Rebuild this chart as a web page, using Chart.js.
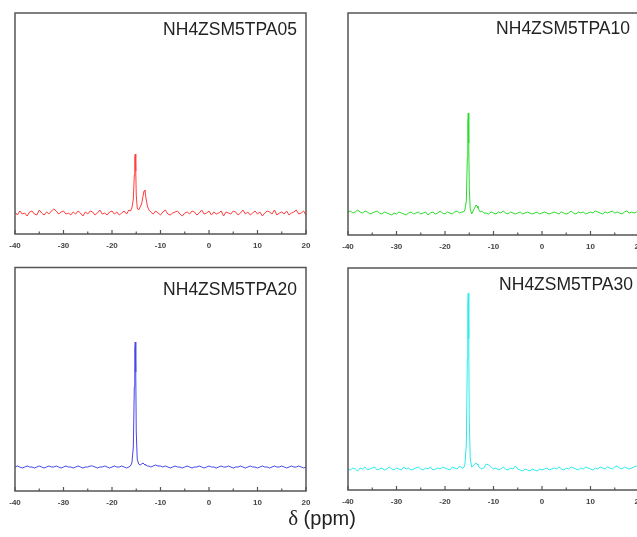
<!DOCTYPE html>
<html>
<head>
<meta charset="utf-8">
<script src="https://cdn.jsdelivr.net/npm/chart.js@4.4.1/dist/chart.umd.min.js"></script>
<style>
    html, body { margin: 0; padding: 0; background: #fff; }
    body { width: 637px; height: 537px; position: relative; overflow: hidden; font-family: "Liberation Sans", Arial, sans-serif; }
    canvas { position: absolute; }
    .label { position: absolute; width: 200px; text-align: right; font-size: 17.5px; line-height: 17.5px; color: #222; white-space: nowrap; }
    #axis_title { position: absolute; left: 222px; top: 508px; width: 200px; text-align: center; font-size: 20px; line-height: 20px; color: #222; }
    #axis_title .delta { font-family: "Liberation Serif", "DejaVu Serif", serif; font-size: 21px; }
</style>
</head>
<body>
<canvas id="chart_tpa05" width="320" height="260" style="left:0;top:0"></canvas>
<canvas id="chart_tpa10" width="320" height="260" style="left:333px;top:0"></canvas>
<canvas id="chart_tpa20" width="320" height="260" style="left:0;top:254px"></canvas>
<canvas id="chart_tpa30" width="320" height="260" style="left:333px;top:254px"></canvas>

<div class="label" style="left:97px;top:21px">NH4ZSM5TPA05</div>
<div class="label" style="left:430px;top:20px">NH4ZSM5TPA10</div>
<div class="label" style="left:97px;top:280.5px">NH4ZSM5TPA20</div>
<div class="label" style="left:433px;top:275.5px">NH4ZSM5TPA30</div>
<div id="axis_title"><span class="delta">δ</span> (ppm)</div>

<script>
const shift_ticks = [-40, -30, -20, -10, 0, 10, 20];
const shift_minor_ticks = [-35, -25, -15, -5, 5, 15];

const shift = [
    -40, -39.5, -39, -38.5, -38, -37.5, -37, -36.5, -36, -35.5,
    -35, -34.5, -34, -33.5, -33, -32.5, -32, -31.5, -31, -30.5,
    -30, -29.5, -29, -28.5, -28, -27.5, -27, -26.5, -26, -25.5,
    -25, -24.5, -24, -23.5, -23, -22.5, -22, -21.5, -21, -20.5,
    -20, -19.5, -19, -18.5, -18, -17.5, -17, -16.5,
    -16.2, -15.9, -15.6, -15.4, -15.3, -15.2, -15.1, -15.0, -14.8, -14.5,
    -14.2, -13.9, -13.6, -13.4, -13.2, -13.0, -12.7, -12.4, -12.0,
    -11.5, -11, -10.5, -10, -9.5, -9, -8.5, -8, -7.5, -7,
    -6.5, -6, -5.5, -5, -4.5, -4, -3.5, -3, -2.5, -2,
    -1.5, -1, -0.5, 0, 0.5, 1, 1.5, 2, 2.5, 3,
    3.5, 4, 4.5, 5, 5.5, 6, 6.5, 7, 7.5, 8,
    8.5, 9, 9.5, 10, 10.5, 11, 11.5, 12, 12.5, 13,
    13.5, 14, 14.5, 15, 15.5, 16, 16.5, 17, 17.5, 18,
    18.5, 19, 19.5, 20
];

const tpa05 = [
    1, -2, 2, -1, 0, -3, 1, 2, -1, -2,
    3, 0, -2, 1, -1, 2, 4, 2, -1, 1,
    2, -1, 0, -2, 1, -1, 2, 0, -3, 1,
    -1, 2, 1, -2, 0, 3, -1, 0, -2, 1,
    2, -1, 1, -2, 0, 2, -1, 3,
    2, 5, 14, 38, 55, 59, 42, 18, 5, 3,
    6, 9, 17, 22, 23, 15, 7, 3, 1,
    -1, 2, 0, -2, 1, 3, -1, -2, 0, 1,
    2, -1, -3, 0, 1, -1, 2, 1, -2, 0,
    3, -1, 0, 2, -2, 1, -1, 0, 2, -3,
    1, 0, -1, 2, 1, -2, 0, 3, -1, 1,
    -2, 0, 2, -1, 1, -3, 0, 2, 1, -1,
    3, -2, 0, 1, -1, 2, -2, 0, 1, 3,
    -1, 0, 2, -2
];

const tpa10 = [
    1, 2, 0, 1, 3, 1, 0, 2, 1, -1,
    0, 1, 2, 0, -1, 1, 0, -1, -2, 0,
    -1, 1, 0, -1, -2, 0, 1, -1, 0, 1,
    -1, 0, 1, -2, 0, 1, -1, 0, 2, 0,
    -1, 1, 0, -1, 1, 2, 0, 1,
    1, 3, 12, 55, 90, 100, 70, 25, 4, -1,
    2, 5, 8, 7, 5, 3, 1, 2, 0,
    0, -1, 1, 0, -1, 1, 0, 2, 0, -1,
    1, 0, -1, 0, 1, -1, 0, 1, 0, -1,
    0, 1, -1, 0, 1, 0, -1, 0, 1, 0,
    -1, 1, 0, -1, 0, 2, 0, -1, 1, 0,
    1, -1, 0, 1, 0, 2, 1, 0, -1, 1,
    0, 1, 2, 0, 1, 0, -1, 1, 2, 0,
    1, 0, 1, 2
];

const tpa20 = [
    0, 1, 0, -1, 0, 1, 0, 0, -1, 0,
    1, 0, -1, 0, 1, 0, 0, 1, 0, -1,
    0, 1, 0, 0, -1, 0, 1, 0, -1, 0,
    0, 1, 1, 0, -1, 0, 0, 1, 0, -1,
    0, 1, 0, 0, 1, 0, -1, 0,
    1, 4, 20, 80, 118, 125, 95, 35, 8, 3,
    2, 3, 4, 3, 2, 2, 1, 1, 0,
    1, 2, 1, 1, 0, 1, 0, -1, 0, 1,
    0, 0, -1, 0, 1, 0, -1, 0, 0, 1,
    0, -1, 0, 1, 0, 0, -1, 0, 1, 0,
    0, 1, 0, -1, 0, 0, 1, 0, -1, 0,
    1, 0, 0, -1, 0, 1, 0, 0, -1, 0,
    1, 0, 0, 1, 0, -1, 0, 1, 0, 0,
    1, 0, -1, 0
];

const tpa30 = [
    0, -1, 1, 0, -2, 1, 0, 2, -1, 0,
    1, 2, -1, 0, 1, -1, 0, 2, 0, -1,
    1, 0, -1, 2, 0, 1, -1, 0, 1, 2,
    0, -1, 1, 0, 2, -1, 0, 1, 0, 2,
    1, 0, -1, 2, 1, 0, 3, 1,
    1, 4, 25, 110, 165, 176, 130, 50, 10, 2,
    3, 5, 6, 5, 4, 2, 1, 0, 1,
    5, 4, 2, 0, 1, -1, 0, 2, 0, -1,
    1, 0, 3, 0, -1, -2, 0, -1, -2, 0,
    -1, -2, 0, -1, 0, 1, -1, 0, 1, 0,
    2, 0, -1, 1, 0, 2, 1, 0, -1, 1,
    0, 2, 1, 0, -1, 1, 0, 2, 1, 0,
    2, 1, 0, 2, 3, 1, 0, 2, 1, 0,
    1, 2, 3, 1
];

// frame round the plot area and ticks pointing inward
const frame_plugin = {
    id: "frame",
    afterDatasetsDraw(chart) {
        const { ctx, chartArea } = chart;
        const x = chart.scales.x;
        ctx.save();
        ctx.strokeStyle = "#555";
        ctx.lineWidth = 1.5;
        ctx.strokeRect(chartArea.left, chartArea.top, chartArea.right - chartArea.left, chartArea.bottom - chartArea.top);
        ctx.lineWidth = 1.2;
        ctx.beginPath();
        shift_ticks.forEach(v => {
            const px = x.getPixelForValue(v);
            ctx.moveTo(px, chartArea.bottom);
            ctx.lineTo(px, chartArea.bottom - 4);
        });
        shift_minor_ticks.forEach(v => {
            const px = x.getPixelForValue(v);
            ctx.moveTo(px, chartArea.bottom);
            ctx.lineTo(px, chartArea.bottom - 2.5);
        });
        ctx.stroke();
        ctx.restore();
    }
};

let spectra =
{
    init()
    {
        this.print_chart("chart_tpa05", tpa05, "rgb(255, 60, 60)", -21, 200, 13, 234);
        this.print_chart("chart_tpa10", tpa10, "rgb(40, 220, 40)", -22, 200, 13, 235);
        this.print_chart("chart_tpa20", tpa20, "rgb(70, 70, 235)", -24, 199.5, 13.5, 237);
        this.print_chart("chart_tpa30", tpa30, "rgb(40, 235, 235)", -21, 201, 14, 236);
    },

    print_chart(id, values, color, y_min, y_max, top, bottom)
    {
        const canvas = document.getElementById(id);
        new Chart(canvas, {
            type: "line",
            data: {
                datasets: [{
                    data: shift.map((s, i) => ({ x: s, y: values[i] })),
                    borderColor: color,
                    borderWidth: 1,
                    pointRadius: 0,
                    tension: 0
                }]
            },
            options: {
                responsive: false,
                animation: false,
                layout: {
                    padding: { left: 15, right: 14, top: top, bottom: 260 - bottom - 23.6 }
                },
                plugins: {
                    legend: { display: false },
                    tooltip: { enabled: false }
                },
                scales: {
                    x: {
                        type: "linear",
                        min: -40,
                        max: 20,
                        afterBuildTicks: axis => { axis.ticks = shift_ticks.map(v => ({ value: v })); },
                        grid: { display: false, drawTicks: false },
                        border: { display: false },
                        ticks: {
                            padding: 7,
                            color: "#444",
                            font: { family: "Liberation Sans", size: 8, weight: "bold" }
                        }
                    },
                    y: {
                        display: false,
                        min: y_min,
                        max: y_max
                    }
                }
            },
            plugins: [frame_plugin]
        });
    }
}

spectra.init();
</script>
</body>
</html>
